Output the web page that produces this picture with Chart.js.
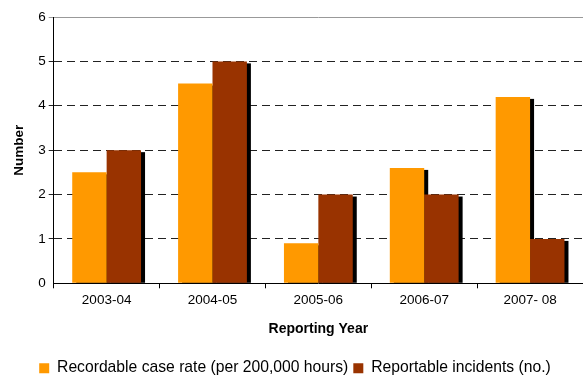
<!DOCTYPE html>
<html>
<head>
<meta charset="utf-8">
<script src="https://cdn.jsdelivr.net/npm/chart.js@4"></script>
<style>
  html, body { margin: 0; padding: 0; background: #fff; }
  #wrap { width: 583px; height: 377px; }
</style>
</head>
<body>
<div id="wrap"><canvas id="myChart" width="583" height="377"></canvas></div>
<script>
// data
const years = ["2003-04", "2004-05", "2005-06", "2006-07", "2007- 08"];
const caseRate = [2.5, 4.5, 0.9, 2.6, 4.2];
const incidents = [3, 5, 2, 2, 1];

const ctx = document.getElementById('myChart');

// black drop shadow on the right of each bar
const barShadow = {
  id: "barShadow",
  beforeDatasetsDraw(chart) {
    const c = chart.ctx;
    const area = chart.chartArea;
    c.save();
    c.beginPath();
    c.rect(area.left, area.top, area.right - area.left + 10, area.bottom - area.top);
    c.clip();
    c.fillStyle = "#000";
    chart.data.datasets.forEach(function (ds, i) {
      chart.getDatasetMeta(i).data.forEach(function (bar) {
        const p = bar.getProps(["x", "y", "base", "width"], true);
        const left = p.x - p.width / 2 + 4;
        c.fillRect(left, p.y + 2, p.width, p.base - p.y - 2);
      });
    });
    c.restore();
  }
};

Chart.defaults.font.family = "'Liberation Sans', Arial, sans-serif";
Chart.defaults.color = "#000";

new Chart(ctx, {
  type: "bar",
  data: {
    labels: years,
    datasets: [{
      label: "Recordable case rate (per 200,000 hours)",
      data: caseRate,
      backgroundColor: "#FF9900",
      categoryPercentage: 0.65,
      barPercentage: 1
    }, {
      label: "Reportable incidents (no.)",
      data: incidents,
      backgroundColor: "#993300",
      categoryPercentage: 0.65,
      barPercentage: 1
    }]
  },
  options: {
    responsive: false,
    animation: false,
    layout: { padding: { top: 17, right: 0, left: 7, bottom: -9 } },
    plugins: {
      legend: {
        position: "bottom",
        labels: {
          boxWidth: 10,
          boxHeight: 10,
          padding: 5,
          font: { size: 15.7 }
        }
      },
      tooltip: { enabled: false }
    },
    scales: {
      x: {
        grid: { drawOnChartArea: false, drawTicks: true, tickLength: 5, color: "#000" },
        border: { color: "#000", width: 1 },
        ticks: { font: { size: 13.5 }, padding: 4 },
        title: { display: true, text: "Reporting Year", font: { size: 14, weight: "bold" }, padding: { top: 8, bottom: 18 } }
      },
      y: {
        min: 0,
        max: 6,
        ticks: { stepSize: 1, font: { size: 13.5 }, padding: 3 },
        grid: {
          tickLength: 5,
          color: function (c) { return c.tick.value === 6 ? "#999" : (c.tick.value === 0 ? "rgba(0,0,0,0)" : "#222"); }
        },
        border: {
          color: "#000",
          width: 1,
          dash: function (c) { return (c.tick && c.tick.value === 6) ? [] : [8, 5]; }
        },
        title: { display: true, text: "Number", font: { size: 13.5, weight: "bold" }, padding: { bottom: 8 } }
      }
    }
  },
  plugins: [barShadow]
});
</script>
</body>
</html>
